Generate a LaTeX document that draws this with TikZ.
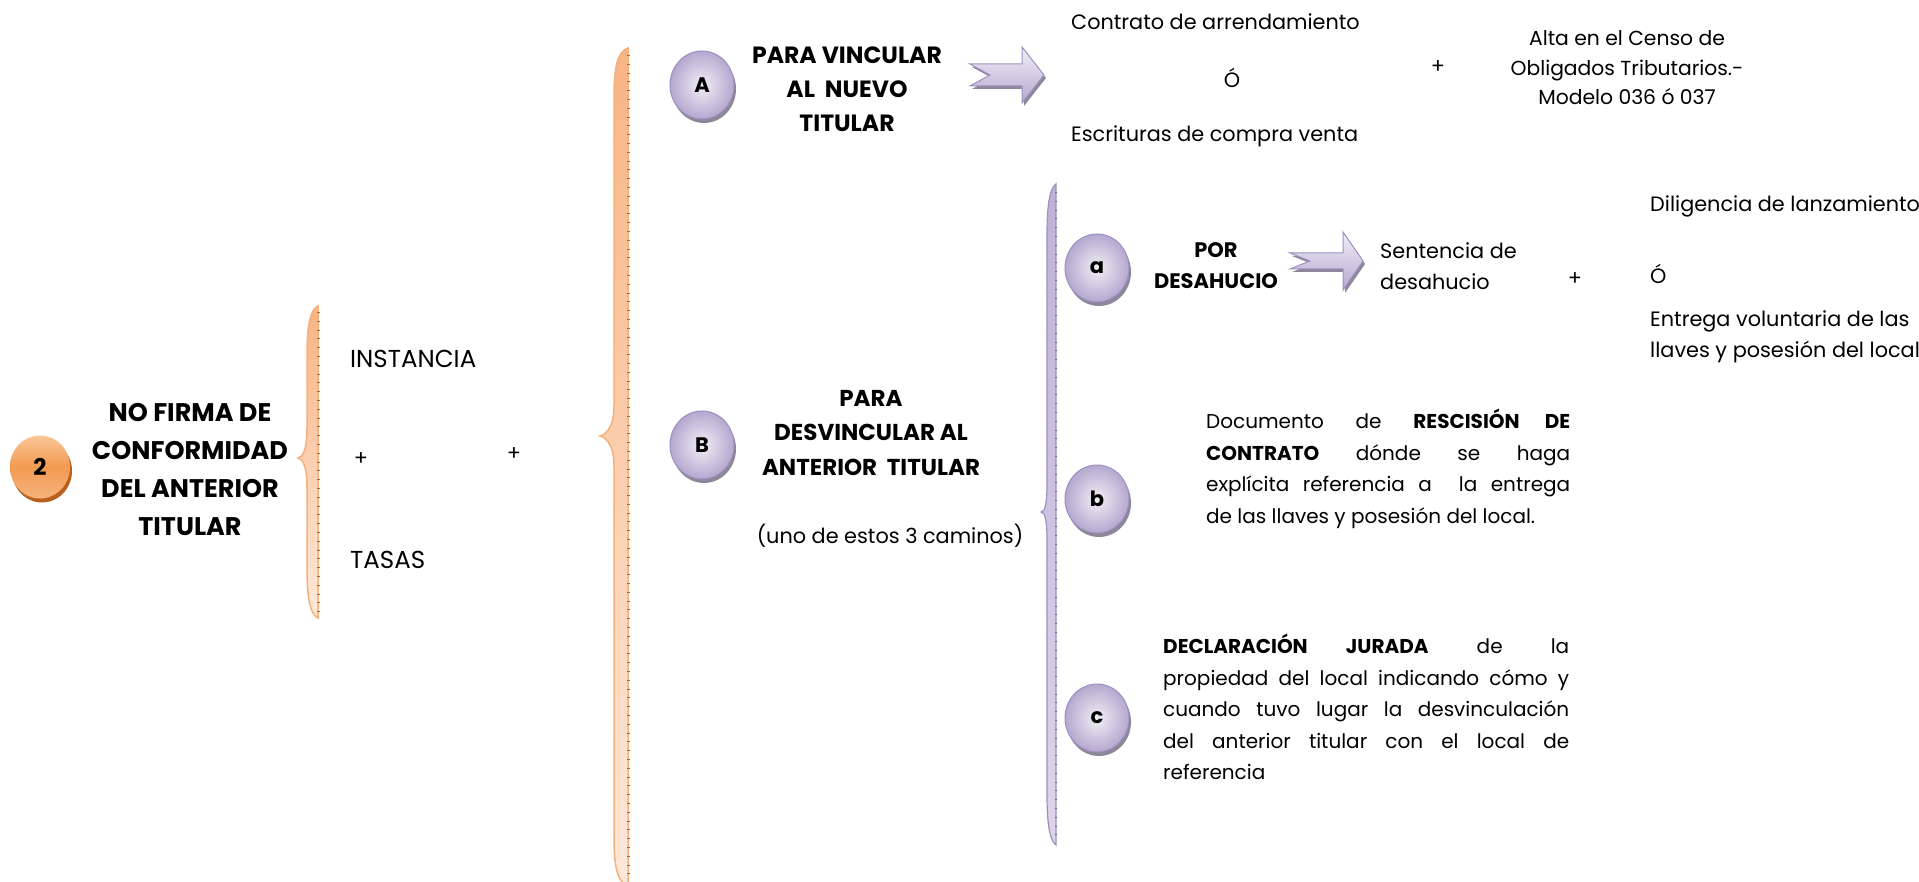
\documentclass[tikz,border=0pt]{standalone}
\usepackage{fontspec}
\setmainfont{Poppins}
\usetikzlibrary{shapes.geometric,shadows}
\definecolor{orA}{HTML}{F9C797}
\definecolor{orB}{HTML}{F29A52}
\definecolor{orC}{HTML}{F5B47D}
\definecolor{orShadow}{HTML}{B9601F}
\definecolor{orBraceTop}{HTML}{F8B484}
\definecolor{orBraceBot}{HTML}{FDE9DA}
\definecolor{orBraceLine}{HTML}{F6B07C}
\definecolor{orTick}{HTML}{9E6A44}
\definecolor{puIn}{HTML}{F1EFF6}
\definecolor{puOut}{HTML}{B4A8CF}
\definecolor{puLine}{HTML}{9E90C3}
\definecolor{puShadow}{HTML}{8C8899}
\definecolor{puBraceTop}{HTML}{BDB2D6}
\definecolor{puBraceBot}{HTML}{DCD5EA}
\definecolor{puTick}{HTML}{6F6590}
\newcommand{\bracepath}[6]{(#1,#4) .. controls (#2+3,#4+4) and (#2,#4+20) .. (#2,#4+50) -- (#2,#5-30) .. controls (#2,#5-6) and (#3+4,#5-1) .. (#3,#5) .. controls (#3+4,#5+1) and (#2,#5+6) .. (#2,#5+30) -- (#2,#6-50) .. controls (#2,#6-20) and (#2+3,#6-4) .. (#1,#6) -- cycle}
\newcommand{\arrowpath}[7]{(#1,#4) -- (#3,#4) -- (#3,#6) -- (#7,#5) -- (#3,#6+2*#5-2*#6) -- (#3,#4+2*#5-2*#4) -- (#1,#4+2*#5-2*#4) -- (#2,#5) -- cycle}
\tikzset{
  regular/.style={font=\fontsize{20.8}{31}\selectfont, inner sep=0pt},
  blocktext/.style={font=\fontsize{20}{31.5}\selectfont, inner sep=0pt, align=justify},
  capstext/.style={font=\fontsize{24.5}{31}\selectfont, inner sep=0pt},
  boldtitle/.style={font=\bfseries\fontsize{25.5}{38}\selectfont, align=center, inner sep=0pt},
  boldsub/.style={font=\bfseries\fontsize{23.5}{34}\selectfont, align=center, inner sep=0pt},
  beadOrange/.style={ellipse, minimum width=60pt, minimum height=63pt, inner sep=0pt,
     top color=orA, bottom color=orC, middle color=orB,
     drop shadow={shadow xshift=2pt, shadow yshift=-4pt, fill=orShadow, opacity=1},
     font=\bfseries\fontsize{23}{26}\selectfont},
  beadPurple/.style={ellipse, minimum width=64pt, minimum height=68pt, inner sep=0pt,
     inner color=puIn, outer color=puOut, draw=puLine, line width=1pt,
     drop shadow={shadow xshift=2pt, shadow yshift=-4pt, fill=puShadow, opacity=1},
     font=\bfseries\fontsize{21}{24}\selectfont},
  orangeBrace/.style={top color=orBraceTop, bottom color=orBraceBot, draw=orBraceLine, line width=1.5pt},
  purpleBrace/.style={top color=puBraceTop, bottom color=puBraceBot, draw=puLine, line width=1.2pt},
  orangeTicks/.style={draw=orTick, line width=3pt, dash pattern=on 0.8pt off 8pt},
  purpleTicks/.style={draw=puTick, line width=2.5pt, dash pattern=on 0.8pt off 8pt},
  blockArrowShadow/.style={fill=puShadow},
  blockArrow/.style={top color=puIn, bottom color=puOut, draw=puLine, line width=1pt},
}
\begin{document}
\begin{tikzpicture}[x=1pt,y=-1pt]
\useasboundingbox (0,0) rectangle (1919,882);
\fill[white] (0,0) rectangle (1919,882);

% ---------- left part
\node[beadOrange] (n2) at (40,467) {2};
\node[boldtitle] (title) at (190,470) {NO FIRMA DE\\CONFORMIDAD\\DEL ANTERIOR\\TITULAR};

\path[orangeBrace] \bracepath{318}{307}{298}{306}{458}{618};
\path[orangeTicks] (318,312) -- (318,612);

\node[capstext, anchor=west] (inst) at (350,359) {INSTANCIA};
\node[regular] (plus1) at (361,459) {+};
\node[capstext, anchor=west] (tasas) at (350,560) {TASAS};
\node[regular] (plus2) at (514,454) {+};

% ---------- big brace
\path[orangeBrace] \bracepath{628}{614}{600}{48}{436}{886};
\path[orangeTicks] (628,55) -- (628,882);

% ---------- A branch
\node[beadPurple] (cA) at (702,85) {A};
\node[boldsub] (tA) at (847,89) {PARA VINCULAR\\AL\ \ NUEVO\\TITULAR};
\path[blockArrowShadow] \arrowpath{972}{992}{1024}{67}{78}{50}{1046};
\path[blockArrow] \arrowpath{970}{990}{1022}{64}{75}{47}{1044};

\node[regular, anchor=west] (contrato) at (1071,22) {Contrato de arrendamiento};
\node[regular] (oA) at (1232,78) {Ó};
\node[regular, anchor=west] (escrituras) at (1071,136) {Escrituras de compra venta};
\node[regular] (plusA) at (1438,67) {+};
\node[regular, align=center, font=\fontsize{20.3}{29.5}\selectfont] (alta) at (1627,68) {Alta en el Censo de\\Obligados Tributarios.-\\Modelo 036 ó 037};

% ---------- B branch
\node[beadPurple] (cB) at (702,445) {B};
\node[boldsub, font=\bfseries\fontsize{23}{34.5}\selectfont] (tB) at (871,433) {PARA\\DESVINCULAR AL\\ANTERIOR\ \ TITULAR};
\node[regular] (uno) at (890,536) {(uno de estos 3 caminos)};

\path[purpleBrace] \bracepath{1056}{1047}{1041}{184}{512}{845};
\path[purpleTicks] (1056,192) -- (1056,838);

% a
\node[beadPurple] (ca) at (1097,268) {a};
\node[boldsub, font=\bfseries\fontsize{21}{31}\selectfont] (ta) at (1216,266) {POR\\DESAHUCIO};
\path[blockArrowShadow] \arrowpath{1292}{1312}{1345}{256}{264}{235}{1365};
\path[blockArrow] \arrowpath{1290}{1310}{1343}{253}{261}{232}{1363};
\node[regular, anchor=west, align=left] (sent) at (1380,266) {Sentencia de\\desahucio};
\node[regular] (plusa) at (1575,279) {+};
\node[regular, anchor=west] (dilig) at (1650,206) {Diligencia de lanzamiento};
\node[regular, anchor=west] (oa) at (1650,274) {Ó};
\node[regular, anchor=west, align=left] (entrega) at (1650,337) {Entrega voluntaria de las\\llaves y posesión del local};

% b
\node[beadPurple] (cb) at (1097,499) {b};
\node[blocktext, anchor=west, text width=364pt] (tb) at (1206,469) {Documento de \textbf{RESCISIÓN DE}\linebreak \textbf{CONTRATO} dónde se haga\linebreak explícita referencia a\ \ la entrega\linebreak de las llaves y posesión del local.};

% c
\node[beadPurple] (cc) at (1097,718) {c};
\node[blocktext, anchor=west, text width=406pt] (tc) at (1163,707) {\textbf{DECLARACIÓN JURADA} de la\linebreak propiedad del local indicando cómo y\linebreak cuando tuvo lugar la desvinculación\linebreak del anterior titular con el local de\linebreak referencia};
\end{tikzpicture}
\end{document}
